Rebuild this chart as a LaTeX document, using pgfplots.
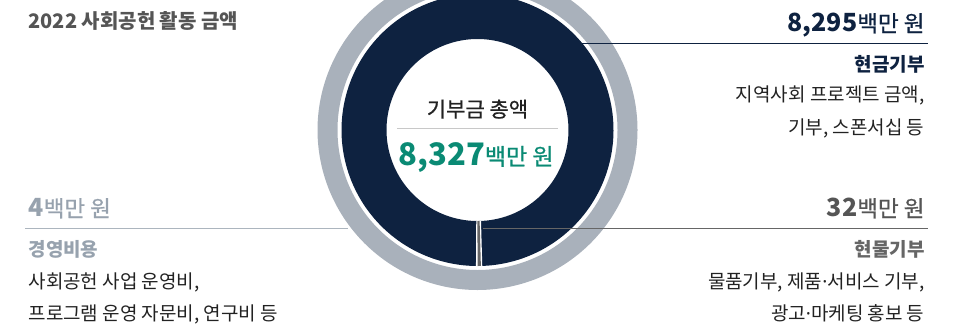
\documentclass[border=0pt]{standalone}
\usepackage{pgfplots}
\pgfplotsset{compat=1.18}
\usepackage{pgfplotstable}
\usepackage{fontspec}
\setmainfont{Noto Sans CJK KR}
\newfontfamily\mediumfont{Noto Sans CJK KR}[FakeBold=0.8]
\newfontfamily\latinfont{Noto Sans}
\newcommand{\mdot}{{\latinfont ·}}

\definecolor{navy}{HTML}{0E2240}
\definecolor{ringgray}{HTML}{A9B1BB}
\definecolor{slicegray}{HTML}{666666}
\definecolor{teal}{HTML}{0A8A74}
\definecolor{titlegray}{HTML}{555555}
\definecolor{palelabel}{HTML}{97A2AE}
\definecolor{bodytext}{HTML}{222222}
\definecolor{rulegray}{HTML}{C8C8C8}

% donut values (million KRW)
\pgfplotstableread{
part value
cash 8295
inkind 32
}\donutdata

\newcommand{\fs}[1]{\fontsize{#1}{#1}\selectfont}

\begin{document}
\begin{tikzpicture}
\pgfplotstablegetelem{0}{value}\of\donutdata \edef\vcash{\pgfplotsretval}
\pgfplotstablegetelem{1}{value}\of\donutdata \edef\vkind{\pgfplotsretval}
\pgfmathsetmacro\vtotal{\vcash+\vkind}
\pgfmathsetmacro\akind{-90+360*\vkind/\vtotal}
\pgfmathsetmacro\akindw{\akind+0.7}
\def\cx{477.5}
\def\cy{130}
\begin{axis}[name=ax, x=1pt, y=1pt, xmin=0, xmax=968, ymin=0, ymax=327,
  y dir=reverse, hide axis, clip=true]
  % outer ring
  \addplot[draw=ringgray, line width=20pt, domain=0:360, samples=241, variable=\t]
    ({\cx+150*cos(\t)}, {\cy-150*sin(\t)}) -- cycle;
  % cash donations
  \addplot[draw=navy, line width=45pt, domain=\akind:270, samples=241, variable=\t]
    ({\cx+113.5*cos(\t)}, {\cy-113.5*sin(\t)});
  % white separators around the in-kind slice
  \addplot[draw=white, line width=45pt, domain=-90.7:\akindw, samples=5, variable=\t]
    ({\cx+113.5*cos(\t)}, {\cy-113.5*sin(\t)});
  % in-kind donations
  \addplot[draw=slicegray, line width=45pt, domain=-90:\akind, samples=5, variable=\t]
    ({\cx+113.5*cos(\t)}, {\cy-113.5*sin(\t)});

  % leader lines
  \addplot[draw=navy, line width=1pt] coordinates {(580,43) (928,43)};
  \addplot[draw=slicegray, line width=1pt] coordinates {(483,228) (928,228)};
  \addplot[draw=palelabel!80, line width=1pt] coordinates {(25,228) (348,228)};
  \addplot[draw=rulegray, line width=0.8pt] coordinates {(397,128) (558,128)};

  % title
  \node[anchor=base west, text=titlegray, font=\fs{20}\bfseries] at (axis cs:25,28.5) {2022 사회공헌 활동 금액};

  % centre
  \node[anchor=base, text=bodytext, font=\fs{21}\mediumfont] at (axis cs:477.5,117) {기부금 총액};
  \node[anchor=base, text=teal] at (axis cs:476,165) {{\fs{31}\bfseries 8,327}{\fs{23}\mediumfont 백만 원}};

  % cash
  \node[anchor=base east, text=navy] at (axis cs:928,31.7) {{\fs{25}\bfseries 8,295}{\fs{22.5}\mediumfont 백만 원}};
  \node[anchor=base east, text=navy, font=\fs{19}\bfseries] at (axis cs:928,71.5) {현금기부};
  \node[anchor=base east, text=bodytext, font=\fs{19}] at (axis cs:928,101) {지역사회 프로젝트 금액,};
  \node[anchor=base east, text=bodytext, font=\fs{19}] at (axis cs:928,134) {기부, 스폰서십 등};

  % in-kind
  \node[anchor=base east, text=titlegray] at (axis cs:928,216.7) {{\fs{25}\bfseries 32}{\fs{22.5}\mediumfont 백만 원}};
  \node[anchor=base east, text=slicegray, font=\fs{19}\bfseries] at (axis cs:928,256.5) {현물기부};
  \node[anchor=base east, text=bodytext, font=\fs{19}] at (axis cs:928,288.5) {물품기부, 제품\mdot 서비스 기부,};
  \node[anchor=base east, text=bodytext, font=\fs{19}] at (axis cs:928,320.5) {광고\mdot 마케팅 홍보 등};

  % operating costs
  \node[anchor=base west, text=palelabel] at (axis cs:25,216.7) {{\fs{25}\bfseries 4}{\fs{22.5}\mediumfont 백만 원}};
  \node[anchor=base west, text=palelabel, font=\fs{19}\bfseries] at (axis cs:25,256.5) {경영비용};
  \node[anchor=base west, text=bodytext, font=\fs{19}] at (axis cs:25,288.5) {사회공헌 사업 운영비,};
  \node[anchor=base west, text=bodytext, font=\fs{19}] at (axis cs:25,320.5) {프로그램 운영 자문비, 연구비 등};
\end{axis}
\pgfresetboundingbox
\useasboundingbox (ax.south west) rectangle (ax.north east);
\end{tikzpicture}
\end{document}
